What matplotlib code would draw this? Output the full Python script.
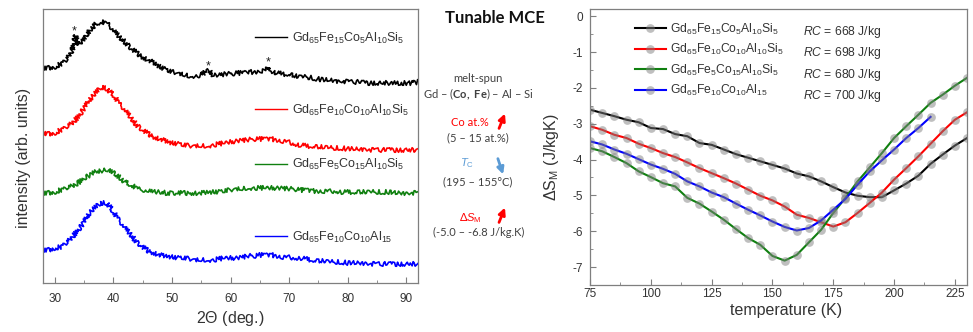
import numpy as np
import matplotlib
matplotlib.use("Agg")
import matplotlib.pyplot as plt
from matplotlib.lines import Line2D
from matplotlib.legend import Legend
from matplotlib.patches import FancyArrowPatch

plt.rcParams['font.family'] = ['Liberation Sans', 'DejaVu Sans']
plt.rcParams['mathtext.fontset'] = 'custom'
plt.rcParams['mathtext.default'] = 'regular'
plt.rcParams['mathtext.rm'] = 'Liberation Sans'
plt.rcParams['mathtext.it'] = 'Liberation Sans:italic'
plt.rcParams['mathtext.bf'] = 'Lato:bold'

#%% XRD data (arb. units, stacked)
two_theta = np.arange(28, 93, 1)

xrd_black_x = [28, 29, 30, 31, 32, 33, 33.5, 34, 35, 36, 37, 38, 39, 40, 41, 42, 43, 44, 45, 46,
               47, 48, 49, 50, 51, 52, 53, 54, 55, 56.2, 57, 58, 59, 60, 61, 62, 63, 64, 65, 66,
               66.5, 67, 68, 69, 70, 71, 72, 73, 74, 75, 76, 77, 78, 79, 80, 81, 82, 83, 84, 85,
               86, 87, 88, 89, 90, 91, 92]
xrd_black = [215, 215, 216, 219, 223, 233, 248, 238, 243, 253, 259, 261, 260, 253, 246, 241, 235, 230, 226, 223,
             220, 216, 213, 211, 210, 208, 207, 207, 208, 213, 208, 208, 209, 209, 210, 210, 211, 211, 212, 213,
             216, 212, 210, 209, 209, 207, 206, 206, 205, 204, 203, 203, 202, 202, 201, 201, 201, 200, 200, 200,
             200, 200, 200, 200, 200, 200, 201]
xrd_red = [150, 149, 150, 153, 156, 160, 166, 175, 183, 190, 196, 194, 188, 180, 173, 165, 158, 153, 149, 146,
           144, 142, 140, 139, 138, 137, 137, 137, 137, 138, 139, 140, 141, 142, 143, 143, 144, 144, 144, 144,
           143, 142, 141, 139, 138, 137, 137, 136, 136, 135, 135, 135, 134, 134, 134, 134, 133, 133, 133, 133,
           133, 133, 133, 133, 133]
xrd_green = [90, 90, 91, 93, 95, 97, 100, 105, 108, 111, 112, 113, 110, 106, 101, 98, 95, 93, 92, 91,
             91, 90, 90, 90, 90, 90, 90, 90, 91, 91, 91, 92, 93, 94, 94, 95, 95, 95, 95, 95,
             95, 95, 94, 94, 93, 93, 92, 92, 92, 92, 92, 91, 91, 91, 91, 91, 91, 91, 91, 91,
             90, 90, 90, 90, 90]
xrd_blue = [33, 33, 35, 36, 40, 46, 53, 61, 70, 76, 80, 80, 71, 63, 55, 48, 41, 36, 32, 30,
            28, 27, 26, 25, 25, 24, 23, 23, 23, 23, 24, 25, 25, 25, 26, 27, 27, 28, 28, 28,
            27, 26, 26, 25, 25, 24, 23, 22, 22, 21, 21, 21, 20, 20, 20, 20, 19, 19, 19, 19,
            19, 19, 19, 19, 19]

star_x = [33.4, 56.2, 66.5]
star_y = [252, 217, 221]

xrd_labels = [r'Gd$_{65}$Fe$_{15}$Co$_{5}$Al$_{10}$Si$_{5}$',
              r'Gd$_{65}$Fe$_{10}$Co$_{10}$Al$_{10}$Si$_{5}$',
              r'Gd$_{65}$Fe$_{5}$Co$_{15}$Al$_{10}$Si$_{5}$',
              r'Gd$_{65}$Fe$_{10}$Co$_{10}$Al$_{15}$']
colors = ['#000000', '#ff0000', '#108010', '#0000ff']

#%% MCE data
temp = np.arange(75, 235, 5)
ds_black = [-2.61, -2.70, -2.79, -2.89, -2.96, -3.12, -3.15, -3.29, -3.35, -3.54, -3.59, -3.72, -3.85, -3.95, -4.05, -4.15,
            -4.25, -4.39, -4.47, -4.61, -4.77, -4.92, -5.01, -5.05, -5.05, -4.86, -4.67, -4.45, -4.12, -3.86, -3.61, -3.40]
ds_red = [-3.07, -3.17, -3.31, -3.40, -3.56, -3.68, -3.82, -3.93, -4.08, -4.24, -4.38, -4.52, -4.67, -4.84, -5.01, -5.14,
          -5.31, -5.54, -5.63, -5.75, -5.87, -5.75, -5.49, -5.21, -4.92, -4.56, -4.24, -3.91, -3.56, -3.21, -2.89, -2.68]
ds_green = [-3.68, -3.77, -3.93, -4.10, -4.33, -4.49, -4.66, -4.75, -5.07, -5.23, -5.45, -5.68, -5.94, -6.19, -6.38, -6.69,
            -6.82, -6.66, -6.31, -5.96, -5.49, -5.07, -4.61, -4.22, -3.82, -3.40, -3.07, -2.75, -2.42, -2.19, -1.94, -1.72]
temp_blue = np.arange(75, 220, 5)
ds_blue = [-3.49, -3.58, -3.72, -3.84, -3.99, -4.14, -4.26, -4.40, -4.61, -4.75, -4.92, -5.05, -5.23, -5.40, -5.56, -5.73,
           -5.88, -5.98, -5.91, -5.70, -5.40, -5.10, -4.70, -4.33, -4.02, -3.72, -3.40, -3.12, -2.81]
rc_values = [668, 698, 680, 700]

#%% figure
fig = plt.figure(figsize=(9.73, 3.32), dpi=100)
ax1 = fig.add_axes([0.0442, 0.1476, 0.3854, 0.8253])
ax2 = fig.add_axes([0.6064, 0.1416, 0.3875, 0.8313])

spine_c = '#7f7f7f'
text_c = '#333333'

# XRD panel
traces = [(xrd_black_x, xrd_black), (two_theta, xrd_red), (two_theta, xrd_green), (two_theta, xrd_blue)]
for (xx, yy), c in zip(traces, colors):
    ln, = ax1.plot(xx, yy, color=c, lw=1.2)
    ln.set_sketch_params(scale=2.3, length=1.2, randomness=3)
for sx, sy in zip(star_x, star_y):
    ax1.text(sx, sy, '*', ha='center', va='center', fontsize=9, color='#222222')

leg_y = [0.894, 0.631, 0.431, 0.168]
for c, lab, yy in zip(colors, xrd_labels, leg_y):
    h = Line2D([], [], color=c, lw=1.0)
    lg = Legend(ax1, [h], [lab], loc='center left', bbox_to_anchor=(0.565, yy),
                frameon=False, fontsize=9, handlelength=2.6, handletextpad=0.35,
                borderpad=0, borderaxespad=0, labelcolor=text_c)
    ax1.add_artist(lg)

ax1.set_xlim(28, 92)
ax1.set_ylim(0, 274)
ax1.set_yticks([])
ax1.set_xticks(np.arange(30, 91, 10))
ax1.set_xticks(np.arange(30, 92, 5), minor=True)
ax1.set_xlabel(r'2$\mathit{\Theta}$ (deg.)', fontsize=11.5, color=text_c, labelpad=3)
ax1.set_ylabel('intensity (arb. units)', fontsize=11.5, color=text_c, labelpad=9)
ax1.yaxis.label.set_y(0.456)

# MCE panel
series = [(temp, ds_black), (temp, ds_red), (temp, ds_green), (temp_blue, ds_blue)]
handles = []
for (xx, yy), c, lab in zip(series, colors, xrd_labels):
    ln, = ax2.plot(xx, yy, color=c, lw=1.5, marker='o', markersize=6.3,
                   markerfacecolor=(0.5, 0.5, 0.5, 0.5), markeredgecolor='none', label=lab)
    handles.append(ln)
ax2.legend(handles=handles, loc='upper left', bbox_to_anchor=(0.118, 0.955), frameon=False,
           fontsize=8.7, handlelength=2.6, handletextpad=0.3, labelspacing=0.45,
           borderpad=0, borderaxespad=0, labelcolor=text_c)
rc_y = [0.916, 0.840, 0.760, 0.684]
for rc, yy in zip(rc_values, rc_y):
    ax2.text(0.565, yy, r'$\mathit{RC}$ = %d J/kg' % rc, transform=ax2.transAxes,
             fontsize=8.7, color=text_c, va='center')

ax2.set_xlim(75, 230)
ax2.set_ylim(-7.5, 0.2)
ax2.set_xticks(np.arange(75, 226, 25))
ax2.set_xticks(np.arange(75, 230, 12.5), minor=True)
ax2.set_yticks(np.arange(-7, 0.1, 1))
ax2.set_yticks(np.arange(-7, 0.1, 0.5), minor=True)
ax2.set_yticklabels(['%d' % v for v in np.arange(-7, 0.1, 1)])
ax2.set_xlabel('temperature (K)', fontsize=11.5, color=text_c, labelpad=2)
ax2.set_ylabel(r'ΔS$_\mathrm{M}$ (J/kgK)', fontsize=11.5, color=text_c, labelpad=8)
ax2.xaxis.label.set_x(0.521)
ax2.yaxis.label.set_y(0.464)

for ax in (ax1, ax2):
    for s in ax.spines.values():
        s.set_color(spine_c)
        s.set_linewidth(0.9)
    ax.tick_params(which='both', direction='in', color=spine_c, labelsize=8.5, labelcolor=text_c)
    ax.tick_params(which='major', length=4)
    ax.tick_params(which='minor', length=2.5)
ax1.tick_params(axis='x', pad=7)
ax2.tick_params(axis='x', pad=2)
ax2.tick_params(axis='y', pad=5)

# middle annotation
W, H = 973.0, 332.0
def ftext(x, y, s, **kw):
    kw.setdefault('fontsize', 8)
    kw.setdefault('color', '#404040')
    fig.text(x / W, 1 - y / H, s, ha='center', va='center', family=['Lato', 'DejaVu Sans'], **kw)

ftext(495, 18, 'Tunable MCE', fontsize=12, fontweight='bold', color='#111111')
ftext(478, 79, 'melt-spun')
ftext(478, 94, r'Gd – ($\mathbf{Co,\ Fe}$) – Al – Si')
ftext(470, 123, 'Co at.%', color='#ff0000')
ftext(478, 138, '(5 – 15 at.%)')
ftext(467, 163, r'$\mathit{T}_\mathrm{C}$', color='#5b9bd5')
ftext(478, 182, '(195 – 155°C)')
ftext(470, 218, r'Δ$\mathit{S}_\mathrm{M}$', color='#ff0000')
ftext(479, 232, '(-5.0 – -6.8 J/kg.K)')

arrows = [((498, 131), (506, 111), '#ff0000'),
          ((497, 156), (504, 177), '#5b9bd5'),
          ((498, 225), (506, 205), '#ff0000')]
for (x0, y0), (x1, y1), c in arrows:
    fig.add_artist(FancyArrowPatch((x0 / W, 1 - y0 / H), (x1 / W, 1 - y1 / H), transform=fig.transFigure,
                                   arrowstyle='-|>', mutation_scale=10, color=c, lw=2.0))

fig.savefig('out.png', dpi=100)
